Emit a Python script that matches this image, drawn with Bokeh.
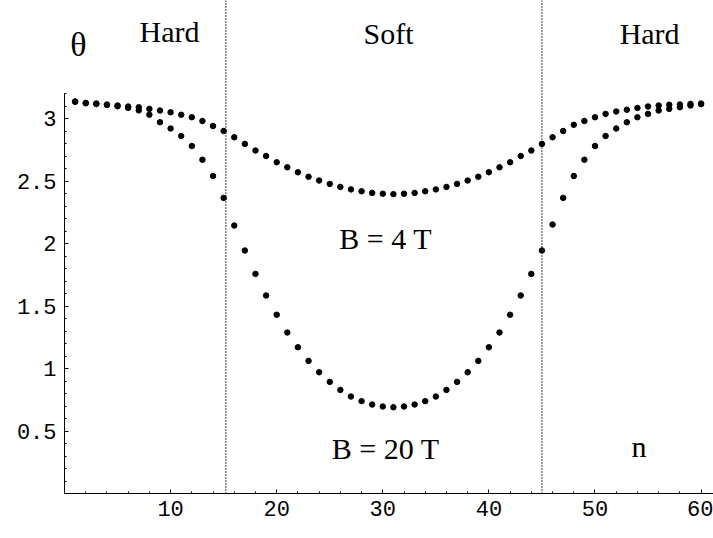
from bokeh.plotting import figure
from bokeh.models import Range1d, FixedTicker, Span
from bokeh.core.properties import value
from bokeh.embed import file_html
from bokeh.resources import INLINE

# layer index
n = list(range(1, 61))

# theta for B = 4 T (upper, shallow curve)
theta_b4 = [3.136, 3.125, 3.12, 3.112, 3.104, 3.096, 3.09, 3.077, 3.064, 3.05,
            3.03, 3.01, 2.98, 2.94, 2.90, 2.85, 2.797, 2.744, 2.70, 2.65,
            2.61, 2.57, 2.534, 2.504, 2.477, 2.453, 2.433, 2.418, 2.405, 2.398,
            2.395, 2.398, 2.405, 2.418, 2.433, 2.453, 2.477, 2.504, 2.534, 2.57,
            2.61, 2.65, 2.70, 2.744, 2.797, 2.85, 2.90, 2.95, 2.98, 3.01,
            3.037, 3.056, 3.07, 3.085, 3.096, 3.104, 3.11, 3.112, 3.117, 3.12]

# theta for B = 20 T (lower, deep curve)
theta_b20 = [3.134, 3.122, 3.116, 3.108, 3.098, 3.085, 3.065, 3.03, 2.97, 2.92,
             2.86, 2.78, 2.67, 2.54, 2.365, 2.144, 1.944, 1.757, 1.584, 1.43,
             1.288, 1.17, 1.061, 0.97, 0.893, 0.829, 0.776, 0.739, 0.712, 0.696,
             0.69, 0.696, 0.712, 0.739, 0.776, 0.829, 0.893, 0.97, 1.061, 1.17,
             1.288, 1.43, 1.584, 1.757, 1.944, 2.152, 2.365, 2.54, 2.67, 2.78,
             2.86, 2.92, 2.97, 3.01, 3.037, 3.064, 3.077, 3.09, 3.104, 3.115]

# layer boundaries between hard and soft regions
boundaries = [15.2, 45.0]

x_ticks = [10, 20, 30, 40, 50, 60]
x_minor = [v for v in range(2, 62, 2) if v % 10 != 0]
y_ticks = [0.5, 1, 1.5, 2, 2.5, 3]
y_tick_labels = ["0.5", "1", "1.5", "2", "2.5", "3"]
y_minor = [round(0.1 * k, 1) for k in range(1, 33) if k % 5 != 0]

p = figure(width=713, height=538,
           x_range=Range1d(0, 61.17), y_range=Range1d(0, 3.944),
           output_backend="svg", toolbar_location=None,
           min_border_left=64, min_border_right=0,
           min_border_top=0, min_border_bottom=45)
p.outline_line_color = None
p.xgrid.visible = False
p.ygrid.visible = False
p.background_fill_color = "white"
p.border_fill_color = "white"

mono = "Liberation Mono"
for ax in (p.xaxis[0], p.yaxis[0]):
    ax.axis_line_color = "black"
    ax.axis_line_width = 1
    ax.major_tick_in = 4
    ax.major_tick_out = 0
    ax.minor_tick_in = 2
    ax.minor_tick_out = 0
    ax.major_tick_line_color = "black"
    ax.minor_tick_line_color = "black"
    ax.major_label_text_font = mono
    ax.major_label_text_font_size = "22px"
    ax.major_label_text_color = "black"

p.xaxis.ticker = FixedTicker(ticks=x_ticks, minor_ticks=x_minor)
p.xaxis.major_label_standoff = 7
p.yaxis.ticker = FixedTicker(ticks=y_ticks, minor_ticks=y_minor)
p.yaxis.major_label_overrides = {t: l for t, l in zip(y_ticks, y_tick_labels)}
p.yaxis.major_label_standoff = 8
p.yaxis.bounds = (0, 3.2)

for b in boundaries:
    p.add_layout(Span(location=b, dimension="height", line_color="black",
                      line_width=1.5, line_dash="1 2"))

p.scatter(n, theta_b4, size=5.5, color="black")
p.scatter(n, theta_b20, size=5.5, color="black")

serif = value("Liberation Serif")
p.text(x=[1.3], y=[3.59], text=["θ"], text_font=serif, text_font_size="34px",
       text_align="center", text_baseline="alphabetic", text_color="black")
p.text(x=[9.9, 30.55, 55.15], y=[3.695, 3.68, 3.68], text=["Hard", "Soft", "Hard"],
       text_font=serif, text_font_size="30px",
       text_align="center", text_baseline="alphabetic", text_color="black")
p.text(x=[30.27, 30.27, 54.15], y=[2.04, 0.36, 0.375], text=["B = 4 T", "B = 20 T", "n"],
       text_font=serif, text_font_size="30px",
       text_align="center", text_baseline="alphabetic", text_color="black")

open("out.html", "w").write(file_html(p, INLINE))
